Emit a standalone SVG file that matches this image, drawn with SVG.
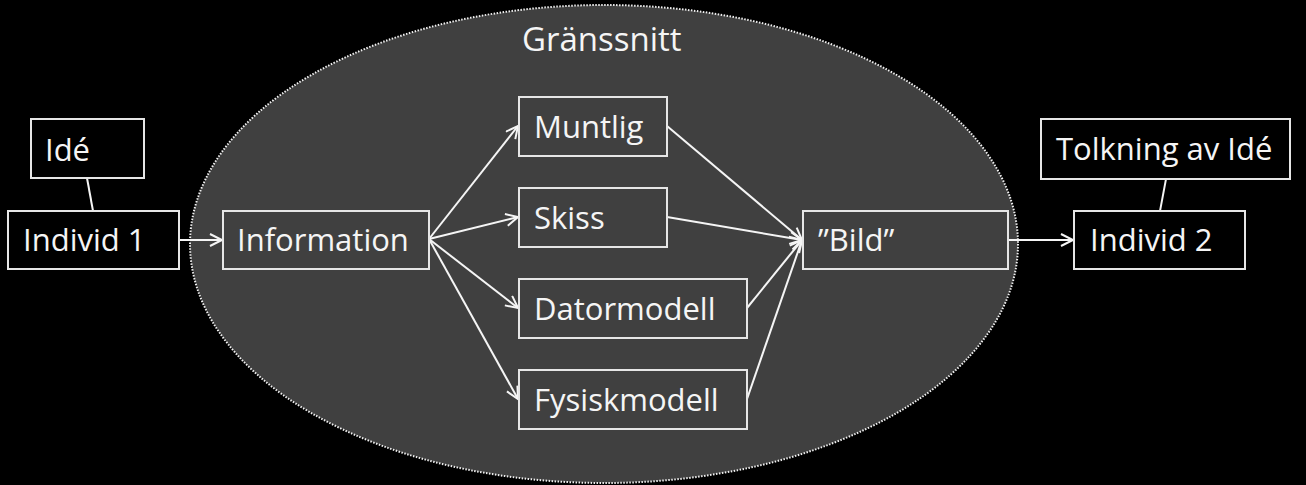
<svg xmlns="http://www.w3.org/2000/svg" width="1306" height="485" viewBox="0 0 1306 485">
<defs>
<style>
.box{stroke:#e6e6e6;stroke-width:2}
.out{fill:#000}
.in{fill:#404040}
.t{font-family:"Open Sans","Liberation Sans",sans-serif;font-size:31px;fill:#f5f5f5}
.c{stroke:#f5f5f5;stroke-width:2;fill:none}
</style>
<marker id="ah" markerUnits="userSpaceOnUse" markerWidth="16" markerHeight="16" refX="13" refY="7" orient="auto">
<path d="M1,1 L13,7 L1,13" fill="none" stroke="#f5f5f5" stroke-width="2"/>
</marker>
</defs>
<rect width="1306" height="485" fill="#000"/>
<g id="grans">
<ellipse cx="604" cy="244" rx="414" ry="239" fill="#404040" stroke="#f0f0f0" stroke-width="2" stroke-dasharray="1.5 1.5"/>
<text class="t" x="522" y="51" style="font-size:33px">Gränssnitt</text>
</g>
<g id="connectors">
<line class="c" x1="87" y1="178" x2="93" y2="211"/>
<line class="c" x1="1166" y1="179" x2="1160" y2="211"/>
<line class="c" x1="179" y1="240" x2="222" y2="240" marker-end="url(#ah)"/>
<line class="c" x1="429" y1="239" x2="518" y2="126" marker-end="url(#ah)"/>
<line class="c" x1="429" y1="239" x2="518" y2="217" marker-end="url(#ah)"/>
<line class="c" x1="429" y1="239" x2="518" y2="308" marker-end="url(#ah)"/>
<line class="c" x1="429" y1="239" x2="518" y2="399" marker-end="url(#ah)"/>
<line class="c" x1="667" y1="126" x2="802" y2="240" marker-end="url(#ah)"/>
<line class="c" x1="667" y1="217" x2="802" y2="240" marker-end="url(#ah)"/>
<line class="c" x1="747" y1="308" x2="802" y2="240" marker-end="url(#ah)"/>
<line class="c" x1="747" y1="399" x2="802" y2="240" marker-end="url(#ah)"/>
<line class="c" x1="1008" y1="240" x2="1073" y2="240" marker-end="url(#ah)"/>
</g>
<g id="ide"><rect class="box out" x="31" y="119" width="113" height="59"/><text class="t" x="45" y="161">Idé</text></g>
<g id="individ1"><rect class="box out" x="8" y="211" width="171" height="58"/><text class="t" x="23" y="251">Individ 1</text></g>
<g id="information"><rect class="box in" x="223" y="211" width="206" height="58"/><text class="t" x="237" y="251">Information</text></g>
<g id="muntlig"><rect class="box in" x="519" y="97" width="148" height="59"/><text class="t" x="534" y="138">Muntlig</text></g>
<g id="skiss"><rect class="box in" x="519" y="188" width="148" height="59"/><text class="t" x="534" y="229">Skiss</text></g>
<g id="datormodell"><rect class="box in" x="519" y="279" width="228" height="59"/><text class="t" x="534" y="320">Datormodell</text></g>
<g id="fysiskmodell"><rect class="box in" x="519" y="370" width="228" height="59"/><text class="t" x="534" y="411">Fysiskmodell</text></g>
<g id="bild"><rect class="box in" x="803" y="211" width="205" height="58"/><text class="t" x="818" y="251">”Bild”</text></g>
<g id="individ2"><rect class="box out" x="1074" y="211" width="171" height="58"/><text class="t" x="1090" y="251">Individ 2</text></g>
<g id="tolkning"><rect class="box out" x="1041" y="119" width="249" height="60"/><text class="t" x="1056" y="160">Tolkning av Idé</text></g>
</svg>
